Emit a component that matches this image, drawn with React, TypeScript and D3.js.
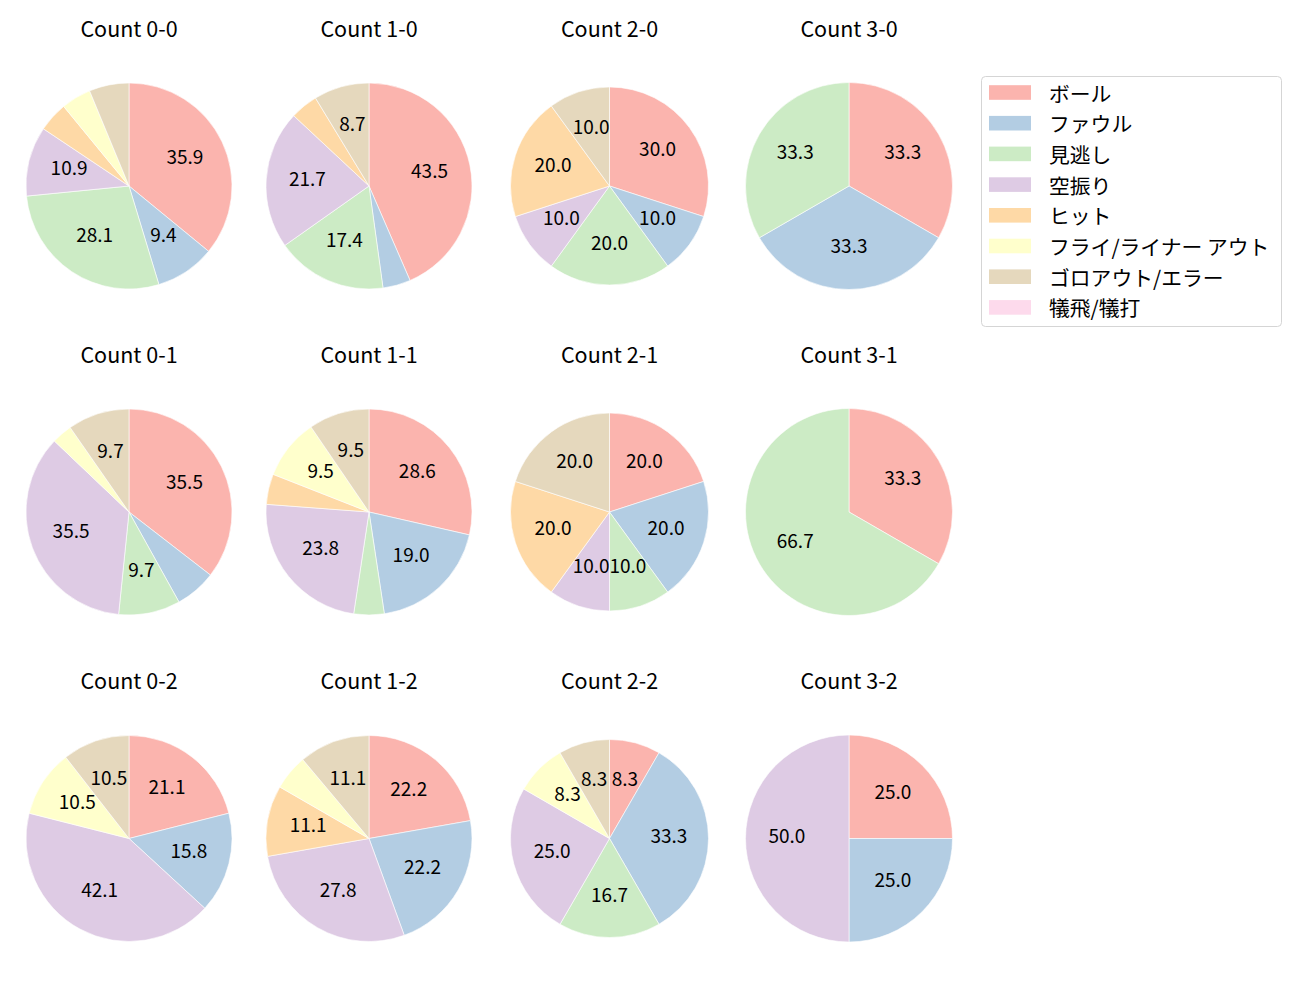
import { useRef, useEffect } from "react";
import * as d3 from "d3";

// categories and their Pastel1 colours
const categories = ["ボール", "ファウル", "見逃し", "空振り", "ヒット", "フライ/ライナー アウト", "ゴロアウト/エラー", "犠飛/犠打"];
const colors = ["#fbb4ae", "#b3cde3", "#ccebc5", "#decbe4", "#fed9a6", "#ffffcc", "#e5d8bd", "#fddaec"];

// counts, row by row (balls-strikes)
const counts = ["0-0", "1-0", "2-0", "3-0", "0-1", "1-1", "2-1", "3-1", "0-2", "1-2", "2-2", "3-2"];

// pitch results per count (same order as counts)
const ball = [23, 10, 3, 1, 11, 6, 2, 1, 4, 4, 1, 1];
const foul = [6, 1, 1, 1, 2, 4, 2, 0, 3, 4, 4, 1];
const looking = [18, 4, 2, 1, 3, 1, 1, 2, 0, 0, 2, 0];
const swinging = [7, 5, 1, 0, 11, 5, 1, 0, 8, 5, 3, 2];
const hit = [3, 1, 2, 0, 0, 1, 2, 0, 0, 2, 0, 0];
const flyOut = [3, 0, 0, 0, 1, 2, 0, 0, 2, 1, 1, 0];
const groundOut = [4, 2, 1, 0, 3, 2, 2, 0, 2, 2, 1, 0];
const sacrifice = [0, 0, 0, 0, 0, 0, 0, 0, 0, 0, 0, 0];

const series = [ball, foul, looking, swinging, hit, flyOut, groundOut, sacrifice];

const W = 1300;
const H = 1000;
const FONT = "'Noto Sans CJK JP', 'Noto Sans', sans-serif";

const colX = [129, 369, 609.5, 849];
const rowY = [186, 512, 838.5];
const colR = [103, 103, 99, 103.5];

const App = () => {
  const ref = useRef(null);

  useEffect(() => {
    const svg = d3.select(ref.current);
    svg.selectAll("*").remove();

    const color = d3.scaleOrdinal<number, string>().domain(d3.range(categories.length)).range(colors);

    counts.forEach((c, i) => {
      const col = i % 4;
      const row = Math.floor(i / 4);
      const r = colR[col];
      const g = svg.append("g").attr("transform", `translate(${colX[col]},${rowY[row]})`);

      const vals = series.map((s, k) => ({ k, v: s[i] }));
      const total = d3.sum(vals, (d) => d.v);
      const pie = d3
        .pie<{ k: number; v: number }>()
        .sort(null)
        .value((d) => d.v)
        .startAngle(0)
        .endAngle(2 * Math.PI);
      const arcs = pie(vals).filter((d) => d.data.v > 0);
      const arc = d3.arc<d3.PieArcDatum<{ k: number; v: number }>>().innerRadius(0).outerRadius(r);
      const labelArc = d3
        .arc<d3.PieArcDatum<{ k: number; v: number }>>()
        .innerRadius(r * 0.6)
        .outerRadius(r * 0.6);

      g.selectAll("path")
        .data(arcs)
        .enter()
        .append("path")
        .attr("d", arc)
        .attr("fill", (d) => color(d.data.k))
        .attr("stroke", "#ffffff")
        .attr("stroke-width", 0.6);

      g.selectAll("text.pct")
        .data(arcs.filter((d) => (d.data.v / total) * 100 >= 7))
        .enter()
        .append("text")
        .attr("class", "pct")
        .attr("transform", (d) => {
          const [x, y] = labelArc.centroid(d);
          return `translate(${x},${y + 4.5})`;
        })
        .attr("text-anchor", "middle")
        .style("font-family", FONT)
        .style("font-size", "19px")
        .attr("fill", "#000")
        .text((d) => ((d.data.v / total) * 100).toFixed(1));

      svg
        .append("text")
        .attr("x", colX[col])
        .attr("y", rowY[row] - 149.5)
        .attr("text-anchor", "middle")
        .style("font-family", FONT)
        .style("font-size", "21.5px")
        .attr("fill", "#000")
        .text(`Count ${c}`);
    });

    // legend
    const lg = svg.append("g").attr("transform", "translate(981.5,76.5)");
    lg.append("rect")
      .attr("width", 300)
      .attr("height", 250)
      .attr("rx", 4)
      .attr("fill", "#fff")
      .attr("stroke", "#d5d5d5")
      .attr("stroke-width", 1);
    const ly = d3.scaleLinear().domain([0, 1]).range([16, 46.7]);
    categories.forEach((name, k) => {
      lg.append("rect")
        .attr("x", 7.5)
        .attr("y", ly(k) - 7.3)
        .attr("width", 42)
        .attr("height", 14.6)
        .attr("fill", color(k));
      lg.append("text")
        .attr("x", 67.5)
        .attr("y", ly(k))
        .attr("dominant-baseline", "central")
        .style("font-family", FONT)
        .style("font-size", "20.8px")
        .attr("fill", "#000")
        .text(name);
    });
  }, []);

  return <svg ref={ref} width={W} height={H} style={{ display: "block", margin: "-8px", background: "#fff" }} />;
};

export default App;
